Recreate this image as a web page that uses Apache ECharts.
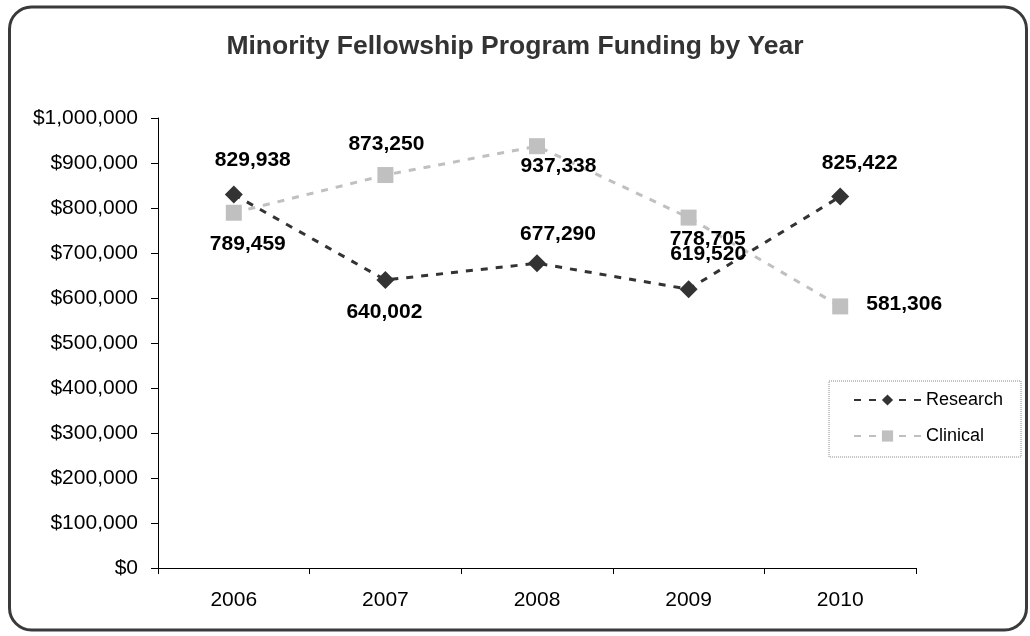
<!DOCTYPE html>
<html>
<head>
<meta charset="utf-8">
<script src="https://cdn.jsdelivr.net/npm/echarts@6/dist/echarts.min.js"></script>
<style>
html,body{margin:0;padding:0;background:#fff;}
#chart{width:1030px;height:636px;}
</style>
</head>
<body>
<div id="chart"></div>
<script>
const years = ['2006', '2007', '2008', '2009', '2010'];
const research = [829938, 640002, 677290, 619520, 825422];
const clinical = [789459, 873250, 937338, 778705, 581306];
const yTicks = [0, 100000, 200000, 300000, 400000, 500000, 600000, 700000, 800000, 900000, 1000000];

// label placement (layout only)
const researchLabelOffsets = [[19, -34], [-1, 32], [21, -29], [19.5, -35.5], [19.5, -33]];
const clinicalLabelOffsets = [[14, 31], [1, -31], [21.5, 20], [19, 22], [64, -2]];

const FONT = '"Liberation Sans", Arial, sans-serif';
function fmtNum(v) { return String(v).replace(/\B(?=(\d{3})+(?!\d))/g, ','); }

function buildData(values, offsets) {
  return values.map((v, i) => ({
    value: v,
    label: { position: 'inside', offset: offsets[i] }
  }));
}

const chart = echarts.init(document.getElementById('chart'), null, { renderer: 'canvas' });
const option = {
  backgroundColor: '#fff',
  animation: false,
  title: {
    text: 'Minority Fellowship Program Funding by Year',
    left: 'center',
    top: 28,
    textStyle: { fontFamily: FONT, fontSize: 26.5, fontWeight: 'bold', color: '#333' }
  },
  graphic: [{
    type: 'rect',
    shape: { x: 9.5, y: 7, width: 1017, height: 623, r: 22 },
    style: { fill: 'none', stroke: '#3a3a3a', lineWidth: 3 },
    silent: true
  }],
  legend: {
    orient: 'vertical',
    left: 829,
    top: 381,
    itemWidth: 67,
    itemHeight: 14,
    itemGap: 18,
    padding: [10, 18, 12, 24],
    borderColor: '#888',
    borderWidth: 1,
    borderType: 'dotted',
    textStyle: { fontFamily: FONT, fontSize: 18, color: '#000' },
    data: ['Research', 'Clinical']
  },
  grid: { left: 158, right: 114, top: 118, bottom: 68, containLabel: false },
  xAxis: {
    type: 'category',
    data: years,
    boundaryGap: true,
    axisLine: { lineStyle: { color: '#000', width: 1 } },
    axisTick: { show: true, length: 6, alignWithLabel: false, lineStyle: { color: '#000' } },
    axisLabel: { fontFamily: FONT, fontSize: 21, color: '#000', margin: 22 },
    splitLine: { show: false }
  },
  yAxis: {
    type: 'value',
    min: yTicks[0],
    max: yTicks[yTicks.length - 1],
    interval: yTicks[1] - yTicks[0],
    axisLine: { show: true, lineStyle: { color: '#000', width: 1 } },
    axisTick: { show: true, length: 7, lineStyle: { color: '#000' } },
    axisLabel: {
      fontFamily: FONT, fontSize: 21, color: '#000', margin: 20,
      formatter: v => '$' + fmtNum(v)
    },
    splitLine: { show: false }
  },
  series: [
    {
      name: 'Research',
      type: 'line',
      data: buildData(research, researchLabelOffsets),
      symbol: 'diamond',
      symbolSize: 18,
      itemStyle: { color: '#333333' },
      lineStyle: { color: '#333333', width: 3, type: [7, 8] },
      label: {
        show: true,
        fontFamily: FONT, fontSize: 21, fontWeight: 'bold', color: '#000',
        formatter: p => fmtNum(p.value)
      },
      z: 3
    },
    {
      name: 'Clinical',
      type: 'line',
      data: buildData(clinical, clinicalLabelOffsets),
      symbol: 'rect',
      symbolSize: 16,
      itemStyle: { color: '#c0c0c0' },
      lineStyle: { color: '#c0c0c0', width: 3, type: [7, 8] },
      label: {
        show: true,
        fontFamily: FONT, fontSize: 21, fontWeight: 'bold', color: '#000',
        formatter: p => fmtNum(p.value)
      },
      z: 2
    }
  ]
};
chart.setOption(option);
</script>
</body>
</html>
